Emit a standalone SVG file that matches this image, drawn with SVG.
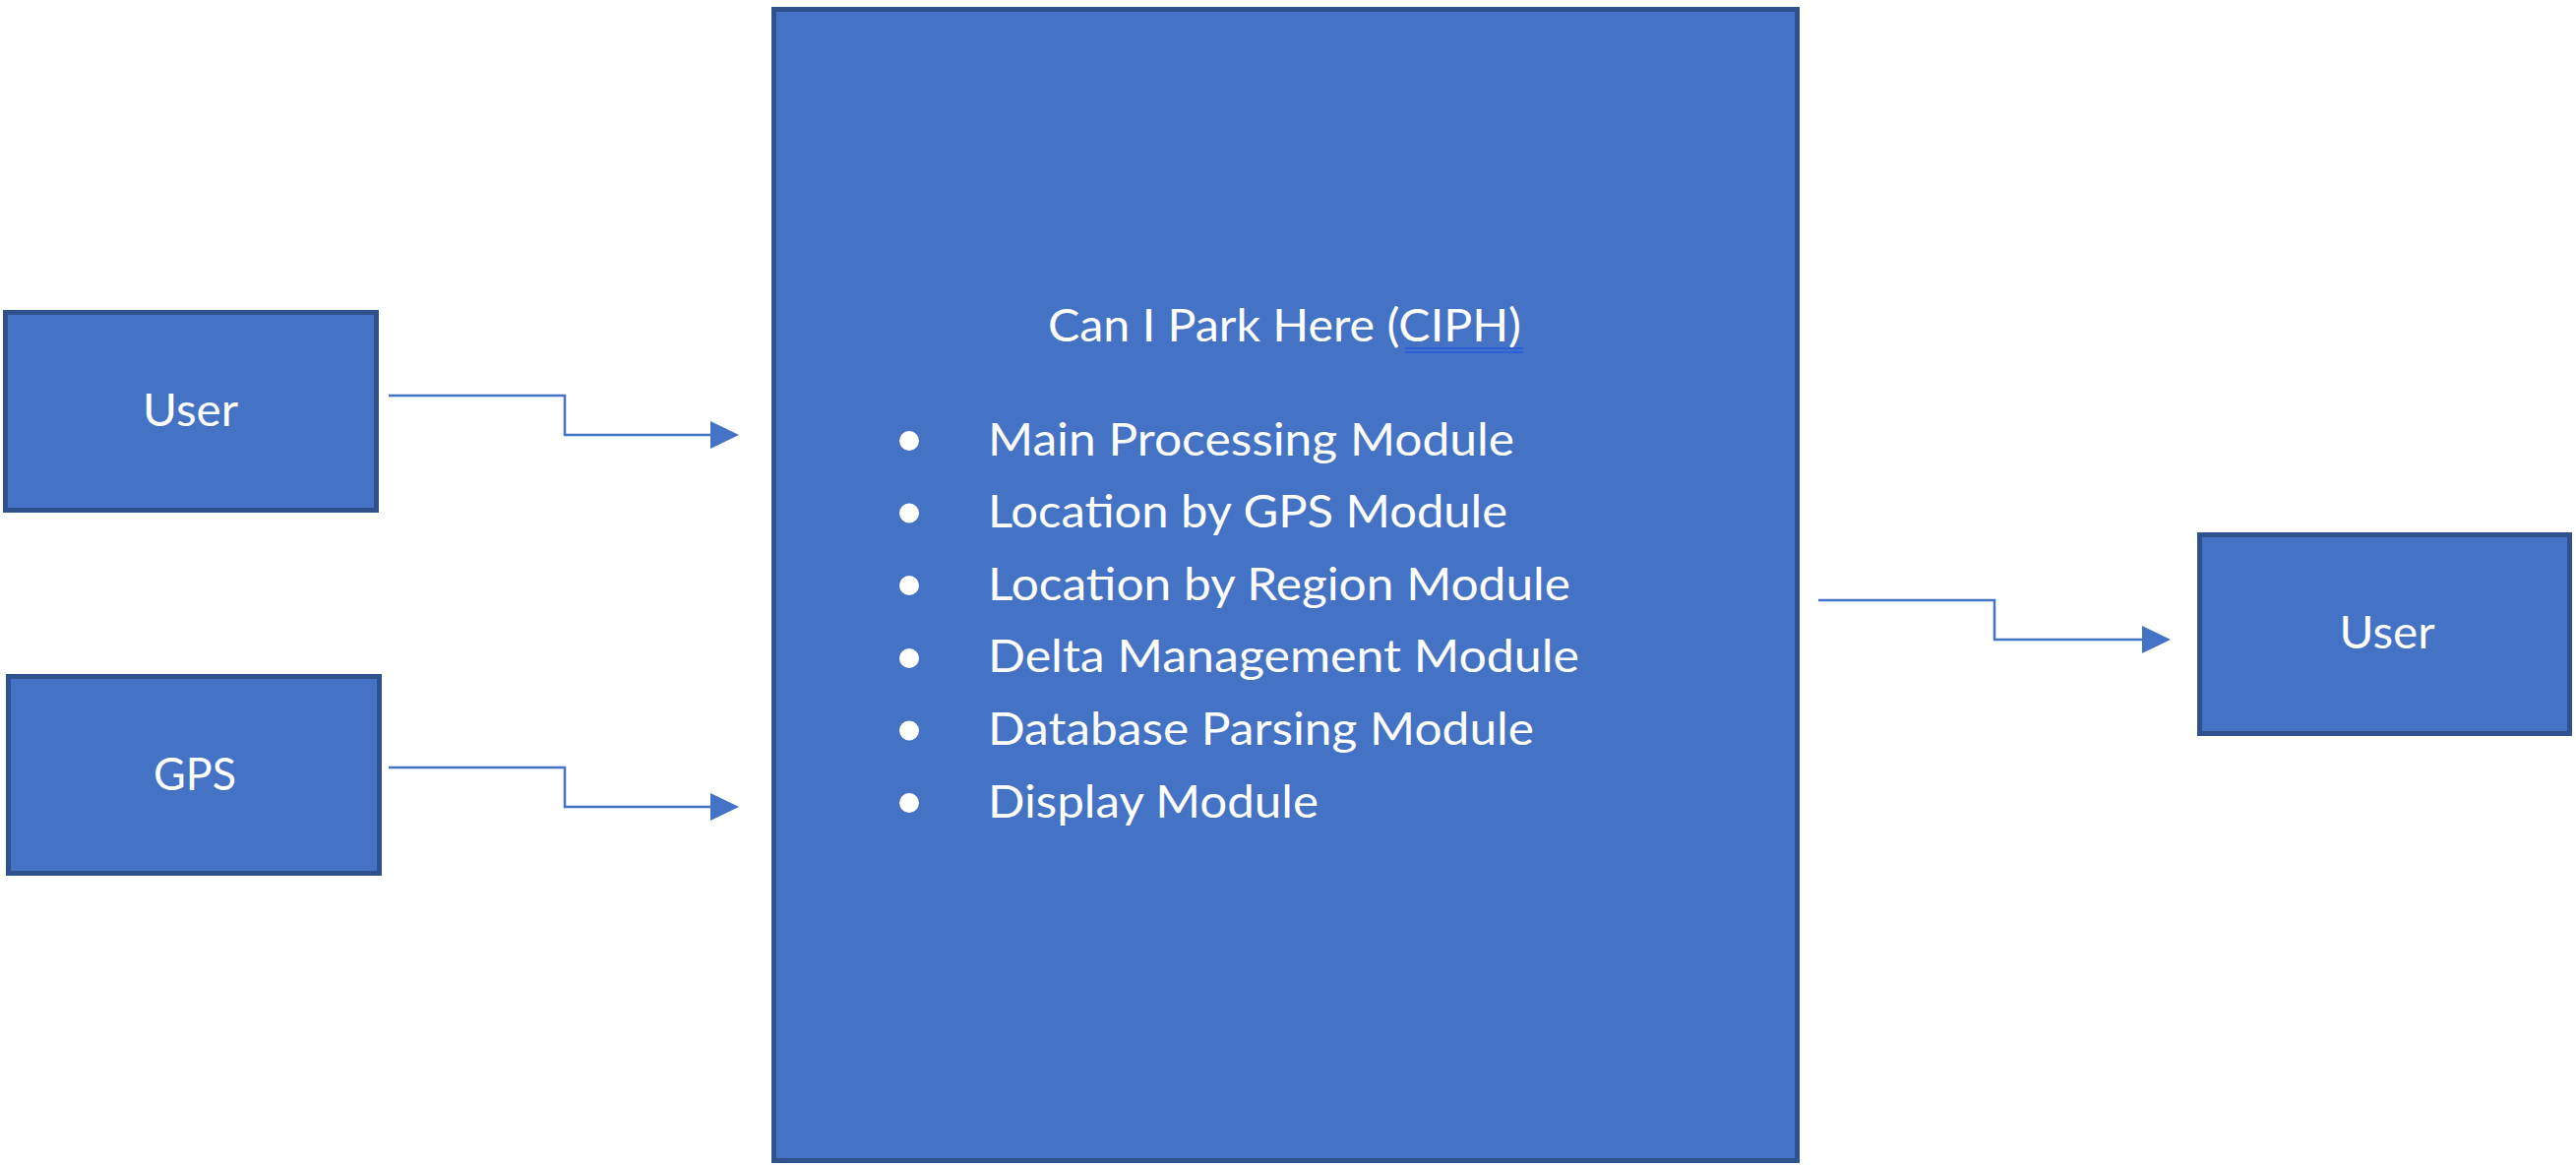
<svg xmlns="http://www.w3.org/2000/svg" width="2618" height="1185" viewBox="0 0 2618 1185">
<style>
.box{fill:#4472C4;stroke:#2F528F;stroke-width:5}
.lbl{font-family:Lato,"Open Sans","Liberation Sans",sans-serif;font-size:46px;fill:#FFFFFF}
.conn{fill:none;stroke:#4472C4;stroke-width:2.5}
.bul{fill:#FFFFFF}
.ul{stroke:#2458E0;stroke-width:1.5}
</style>
<defs>
<marker id="arrow" markerUnits="userSpaceOnUse" markerWidth="30" markerHeight="30" refX="0" refY="14" orient="auto" viewBox="0 0 30 28">
<path d="M0,0 L29,14 L0,28 z" fill="#4472C4"/>
</marker>
</defs>
<rect width="2618" height="1185" fill="#FFFFFF"/>
<g id="connectors">
<path class="conn" d="M395,402 H574 V442 H722" marker-end="url(#arrow)"/>
<path class="conn" d="M395,780 H574 V820 H722" marker-end="url(#arrow)"/>
<path class="conn" d="M1848,610 H2027 V650 H2177" marker-end="url(#arrow)"/>
</g>
<g id="user-in">
<rect class="box" x="5.5" y="317.5" width="377" height="201"/>
<text class="lbl" x="193.5" y="433" text-anchor="middle" textLength="97" lengthAdjust="spacingAndGlyphs">User</text>
</g>
<g id="gps">
<rect class="box" x="8.5" y="687.5" width="377" height="200"/>
<text class="lbl" x="198" y="803" text-anchor="middle" textLength="84" lengthAdjust="spacingAndGlyphs">GPS</text>
</g>
<g id="ciph">
<rect class="box" x="786.5" y="9.5" width="1040" height="1170"/>
<text class="lbl" x="1065" y="347" textLength="481" lengthAdjust="spacingAndGlyphs">Can I Park Here (CIPH)</text>
<line class="ul" x1="1428" y1="354" x2="1548" y2="354"/>
<line class="ul" x1="1428" y1="358" x2="1548" y2="358"/>
<circle class="bul" cx="924" cy="448" r="10"/>
<text class="lbl" x="1004" y="462.5" textLength="535" lengthAdjust="spacingAndGlyphs">Main Processing Module</text>
<circle class="bul" cx="924" cy="521.5" r="10"/>
<text class="lbl" x="1004" y="536" textLength="528" lengthAdjust="spacingAndGlyphs">Location by GPS Module</text>
<circle class="bul" cx="924" cy="595" r="10"/>
<text class="lbl" x="1004" y="609.7" textLength="592" lengthAdjust="spacingAndGlyphs">Location by Region Module</text>
<circle class="bul" cx="924" cy="669" r="10"/>
<text class="lbl" x="1004" y="683.3" textLength="601" lengthAdjust="spacingAndGlyphs">Delta Management Module</text>
<circle class="bul" cx="924" cy="742.5" r="10"/>
<text class="lbl" x="1004" y="757" textLength="555" lengthAdjust="spacingAndGlyphs">Database Parsing Module</text>
<circle class="bul" cx="924" cy="816" r="10"/>
<text class="lbl" x="1004" y="830.6" textLength="336" lengthAdjust="spacingAndGlyphs">Display Module</text>
</g>
<g id="user-out">
<rect class="box" x="2235.5" y="543.5" width="376" height="202"/>
<text class="lbl" x="2426" y="659" text-anchor="middle" textLength="97" lengthAdjust="spacingAndGlyphs">User</text>
</g>
</svg>
